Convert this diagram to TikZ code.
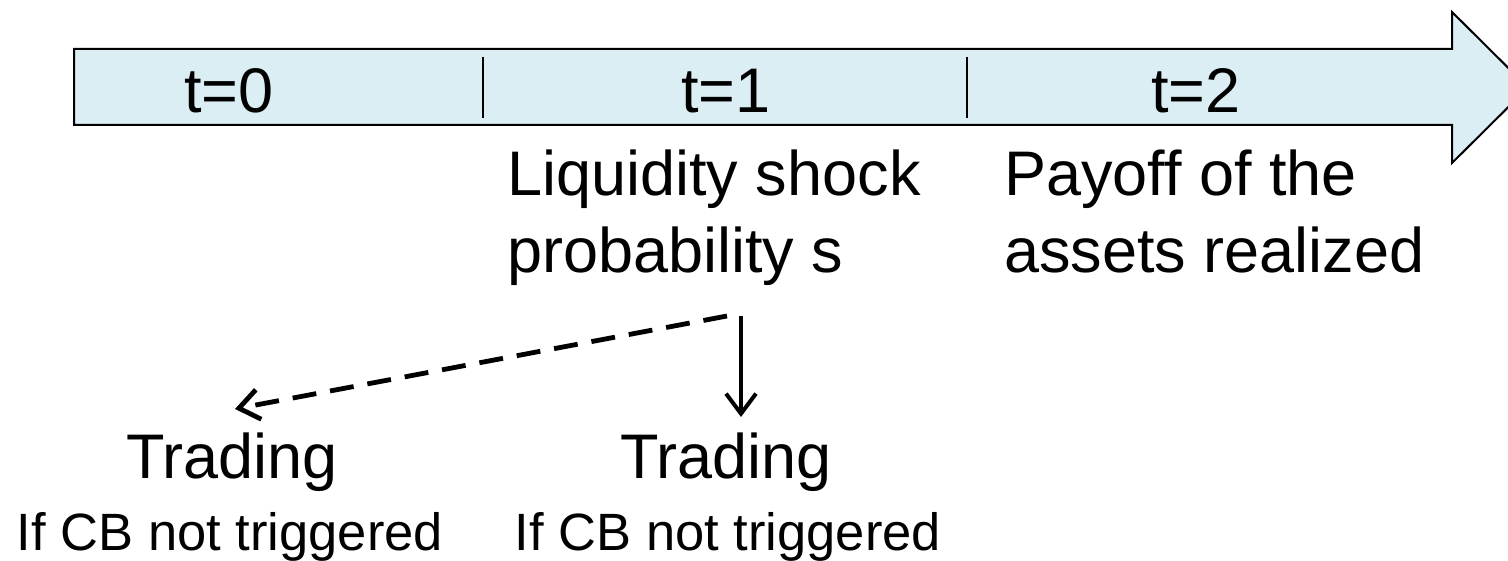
\documentclass[tikz,border=0pt]{standalone}
\usepackage{fontspec}
\setmainfont{Liberation Sans}
\usetikzlibrary{arrows.meta}
\definecolor{timefill}{HTML}{DAEEF3}

\begin{document}
\begin{tikzpicture}[x=0.5pt, y=-0.5pt,
    bigtext/.style={inner sep=0pt, font=\fontsize{31.5}{38.5}\selectfont},
    smalltext/.style={inner sep=0pt, font=\fontsize{26.25}{31.5}\selectfont},
    divider/.style={line width=1pt},
    arr/.style={-{Straight Barb[length=10pt, width=15pt]}, line width=2pt},
    dasharr/.style={arr, line width=2.4pt, dash pattern=on 12pt off 7pt}
]
    \useasboundingbox (0,0) rectangle (1508,561);

    \draw[fill=timefill, line width=1pt] (74,49) -- (1452,49) -- (1452,12) -- (1528,87.5) -- (1452,163) -- (1452,125) -- (74,125) -- cycle;
    \draw[divider] (483,57) -- (483,118);
    \draw[divider] (967,57) -- (967,118);

    \node[bigtext, anchor=base] (t0) at (229,113) {t=0};
    \node[bigtext, anchor=base] (t1) at (726,113) {t=1};
    \node[bigtext, anchor=base] (t2) at (1196,113) {t=2};

    \node[bigtext, anchor=north west, align=left] (shock) at (507,149) {Liquidity shock\\probability s};
    \node[bigtext, anchor=north west, align=left] (payoff) at (1004,149) {Payoff of the\\assets realized};

    \node[bigtext, anchor=base] (trade1) at (232,478) {Trading};
    \node[smalltext, anchor=base] (cond1) at (230,550) {If CB not triggered};
    \node[bigtext, anchor=base] (trade2) at (726,478) {Trading};
    \node[smalltext, anchor=base] (cond2) at (728,550) {If CB not triggered};

    \coordinate (forkl) at (727,316);
    \coordinate (forkr) at (741,316);
    \draw[dasharr] (forkl) -- ([xshift=1.5pt, yshift=11.5pt]trade1.north);
    \draw[arr] (forkr) -- ([yshift=7.5pt]forkr |- trade2.north);
\end{tikzpicture}
\end{document}
